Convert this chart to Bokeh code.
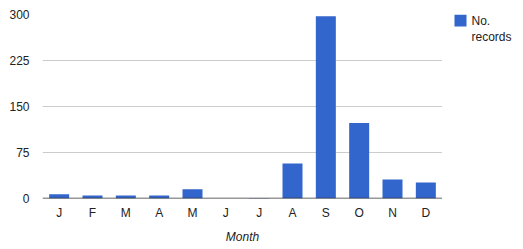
from bokeh.plotting import figure
from bokeh.models import Range1d, FixedTicker
from bokeh.layouts import row
from bokeh.core.properties import value
from bokeh.embed import file_html
from bokeh.resources import INLINE

months = ["J", "F", "M", "A", "M", "J", "J", "A", "S", "O", "N", "D"]
records = [7, 5, 5, 5, 15, 0, 1, 57, 297, 123, 31, 26]
y_ticks = [0, 75, 150, 225, 300]
series_name = "No.\nrecords"
x_title = "Month"

FONT = "Liberation Sans"
TXT = "#222222"
BAR = "#3366cc"

xs = list(range(1, len(months) + 1))

p = figure(width=442, height=249, output_backend="svg", toolbar_location=None,
           x_range=Range1d(0.5, len(months) + 0.5), y_range=Range1d(0, 300),
           min_border_left=42, min_border_right=0, min_border_top=14, min_border_bottom=51)
p.outline_line_color = None
p.background_fill_color = "white"
p.border_fill_color = "white"

r = p.vbar(x=xs, top=records, width=0.6, bottom=0, fill_color=BAR, line_color=None)
p.line(x=[0.5, len(months) + 0.5], y=[0, 0], line_color="#333333", line_width=1.5)

p.xgrid.grid_line_color = None
p.ygrid.grid_line_color = "#cccccc"
p.ygrid.ticker = FixedTicker(ticks=y_ticks)

p.yaxis.ticker = FixedTicker(ticks=y_ticks)
p.yaxis.axis_line_color = None
p.yaxis.major_tick_line_color = None
p.yaxis.minor_tick_line_color = None
p.yaxis.major_tick_out = 0
p.yaxis.major_label_standoff = 13
p.yaxis.major_label_text_font = FONT
p.yaxis.major_label_text_font_size = "12px"
p.yaxis.major_label_text_color = TXT

p.xaxis.ticker = FixedTicker(ticks=xs)
p.xaxis.major_label_overrides = {x: m for x, m in zip(xs, months)}
p.xaxis.axis_line_color = None
p.xaxis.major_tick_line_color = None
p.xaxis.minor_tick_line_color = None
p.xaxis.major_tick_out = 0
p.xaxis.major_label_standoff = 7
p.xaxis.major_label_text_font = FONT
p.xaxis.major_label_text_font_size = "12px"
p.xaxis.major_label_text_color = TXT
p.xaxis.axis_label = x_title
p.xaxis.axis_label_text_font = FONT
p.xaxis.axis_label_text_font_size = "12px"
p.xaxis.axis_label_text_font_style = "italic"
p.xaxis.axis_label_text_color = TXT
p.xaxis.axis_label_standoff = 7

# legend panel: its frame is aligned with the main frame (page y 14..198),
# so use page-pixel coordinates with y pointing down
lg = figure(width=81, height=249, output_backend="svg", toolbar_location=None,
            title=None, x_axis_location=None, y_axis_location=None,
            x_range=Range1d(0, 81), y_range=Range1d(198, 14),
            min_border=0, min_border_left=0, min_border_right=0,
            min_border_top=14, min_border_bottom=51)
lg.grid.visible = False
lg.outline_line_color = None
lg.border_fill_color = "white"
lines = series_name.split("\n")
lg.quad(left=[12], right=[24], top=[14], bottom=[26], fill_color=BAR, line_color=None)
lg.text(x=[29] * len(lines), y=[20.5 + 15.5 * i for i in range(len(lines))], text=lines,
        text_font=value(FONT), text_font_size="12px", text_color=TXT,
        text_baseline="middle", text_align="left")

layout = row(p, lg)
open("out.html", "w").write(file_html(layout, INLINE))
